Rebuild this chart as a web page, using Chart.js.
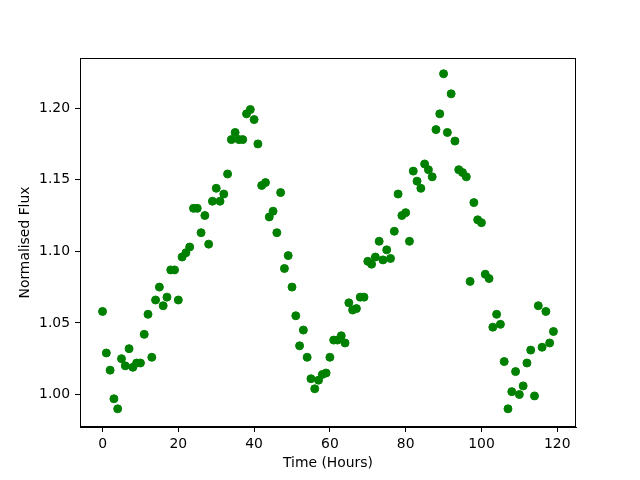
<!DOCTYPE html>
<html>
<head>
<meta charset="utf-8">
<script src="https://cdn.jsdelivr.net/npm/chart.js@4"></script>
<style>
  html, body { margin: 0; padding: 0; background: #fff; }
  canvas { display: block; }
</style>
</head>
<body>
<canvas id="myChart" width="640" height="480"></canvas>
<script>
// hours 0..119, one reading per hour
const hours = [];
for (let i = 0; i < 120; i++) hours.push(i);

const flux = [
  1.058, 1.029, 1.017, 0.997, 0.990, 1.025, 1.020, 1.032, 1.019, 1.022,
  1.022, 1.042, 1.056, 1.026, 1.066, 1.075, 1.062, 1.068, 1.087, 1.087,
  1.066, 1.096, 1.099, 1.103, 1.130, 1.130, 1.113, 1.125, 1.105, 1.135,
  1.144, 1.135, 1.140, 1.154, 1.178, 1.183, 1.178, 1.178, 1.196, 1.199,
  1.192, 1.175, 1.146, 1.148, 1.124, 1.128, 1.113, 1.141, 1.088, 1.097,
  1.075, 1.055, 1.034, 1.045, 1.026, 1.011, 1.004, 1.010, 1.014, 1.015,
  1.026, 1.038, 1.038, 1.041, 1.036, 1.064, 1.059, 1.060, 1.068, 1.068,
  1.093, 1.091, 1.096, 1.107, 1.094, 1.101, 1.095, 1.114, 1.140, 1.125,
  1.127, 1.107, 1.156, 1.149, 1.144, 1.161, 1.157, 1.152, 1.185, 1.196,
  1.224, 1.183, 1.210, 1.177, 1.157, 1.155, 1.152, 1.079, 1.134, 1.122,
  1.120, 1.084, 1.081, 1.047, 1.056, 1.049, 1.023, 0.990, 1.002, 1.016,
  1.000, 1.006, 1.022, 1.031, 0.999, 1.062, 1.033, 1.058, 1.036, 1.044
];

const xTicks = [0, 20, 40, 60, 80, 100, 120];
const yTicks = [1.00, 1.05, 1.10, 1.15, 1.20];

const points = hours.map((h, i) => ({ x: h, y: flux[i] }));

// top and right spines like the original frame
const frame = {
  id: 'frame',
  afterDraw(chart) {
    const a = chart.chartArea;
    const c = chart.ctx;
    c.save();
    c.strokeStyle = '#000';
    c.lineWidth = 1;
    c.strokeRect(Math.round(a.left) + 0.5, Math.round(a.top) + 0.5,
                 Math.round(a.right - a.left) - 1, Math.round(a.bottom - a.top) - 1);
    c.restore();
  }
};

const font = { family: 'DejaVu Sans', size: 13.9 };

new Chart(document.getElementById('myChart'), {
  type: 'scatter',
  data: {
    datasets: [{
      data: points,
      backgroundColor: '#008000',
      borderColor: '#008000',
      pointRadius: 4,
      pointHoverRadius: 4
    }]
  },
  options: {
    responsive: false,
    animation: false,
    layout: { padding: { left: 0, right: 64, top: 58, bottom: 0 } },
    plugins: { legend: { display: false }, tooltip: { enabled: false } },
    scales: {
      x: {
        type: 'linear',
        min: -5.95,
        max: 124.95,
        afterBuildTicks: s => { s.ticks = xTicks.map(v => ({ value: v })); },
        afterFit: s => { s.height = 53; },
        grid: { drawOnChartArea: false, drawTicks: true, tickLength: 5, color: '#000' },
        border: { color: '#000' },
        ticks: { color: '#000', font: font, padding: 4, maxRotation: 0 },
        title: { display: true, text: 'Time (Hours)', color: '#000', font: font, padding: { bottom: 8 } }
      },
      y: {
        type: 'linear',
        min: 0.9773,
        max: 1.2350,
        afterBuildTicks: s => { s.ticks = yTicks.map(v => ({ value: v })); },
        afterFit: s => { s.width = 80; },
        grid: { drawOnChartArea: false, drawTicks: true, tickLength: 5, color: '#000' },
        border: { color: '#000' },
        ticks: { color: '#000', font: font, padding: 5, callback: v => v.toFixed(2) },
        title: { display: true, text: 'Normalised Flux', color: '#000', font: font, padding: { top: 17 } }
      }
    }
  },
  plugins: [frame]
});
</script>
</body>
</html>
